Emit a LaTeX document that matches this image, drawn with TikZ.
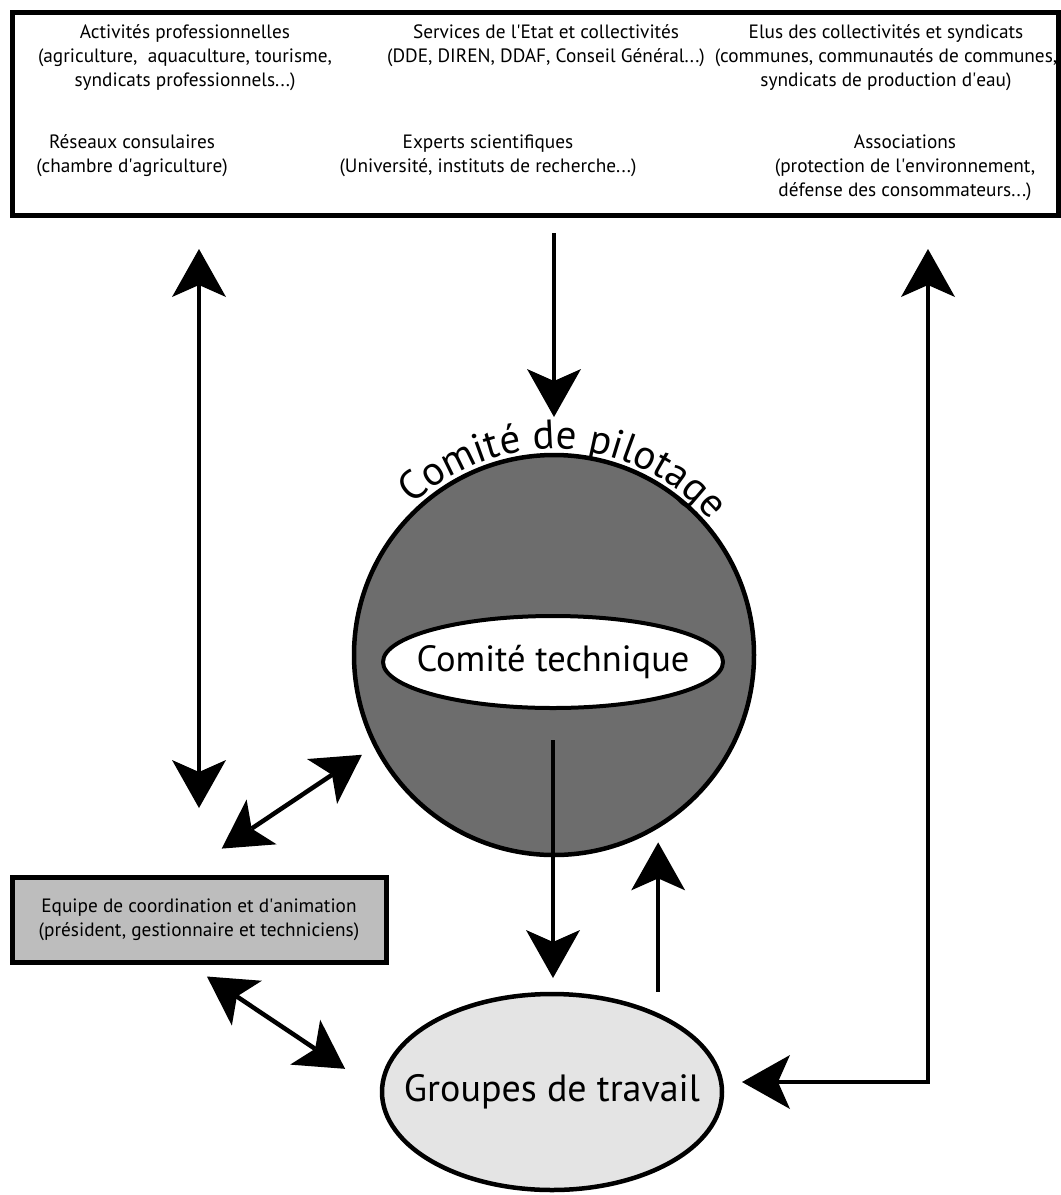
\documentclass[tikz,border=0pt]{standalone}
\usepackage{fontspec}
\setmainfont{PT Sans}
\usetikzlibrary{calc,shapes,arrows.meta,decorations.text}
\definecolor{gris}{HTML}{6D6D6D}
\definecolor{grisclair}{HTML}{BDBDBD}
\definecolor{grispale}{HTML}{E4E4E4}
\newcommand\apos{\textquotesingle}
\tikzset{
  cadre/.style={draw,line width=5pt,inner sep=0pt},
  texte/.style={align=center,font=\fontsize{19.3}{24}\selectfont},
  bulle/.style={draw,line width=4.5pt,inner sep=0pt},
  fleche/.style={line width=4.5pt,-{Stealth[length=48pt,width=54pt,inset=12pt,line width=0pt]}},
  fleche2/.style={line width=4.5pt,{Stealth[length=48pt,width=54pt,inset=12pt,line width=0pt]}-{Stealth[length=48pt,width=54pt,inset=12pt,line width=0pt]}}
}
\begin{document}
\begin{tikzpicture}[x=1pt,y=-1pt]
  \useasboundingbox (0,0) rectangle (1061,1195);
  \node[cadre,minimum width=1046pt,minimum height=203pt](acteurs)at(535,113.5){};
  \node[texte](activites)at(185,58){Activités professionnelles\\(agriculture,~ aquaculture, tourisme,\\syndicats professionnels...)};
  \node[texte](services)at(546,46){Services de l\apos Etat et collectivités\\(DDE, DIREN, DDAF, Conseil Général...)};
  \node[texte](elus)at(886,58){Elus des collectivités et syndicats\\(communes, communautés de communes,\\syndicats de production d\apos eau)};
  \node[texte](reseaux)at(132,156){Réseaux consulaires\\(chambre d\apos agriculture)};
  \node[texte](experts)at(488,156){Experts scientifiques\\(Université, instituts de recherche...)};
  \node[texte](assoc)at(905,168){Associations\\(protection de l\apos environnement,\\défense des consommateurs...)};

  \node[bulle,circle,fill=gris,minimum size=400pt](pil)at(554,655){};
  \path[decorate,decoration={text along path,text align=center,
    text={|\fontsize{41}{41}\selectfont|Comité de pilotage}}]
    ([shift={(pil.center)}]-147:206) arc[start angle=-147,end angle=-27,radius=206];
  \node[bulle,ellipse,line width=4pt,fill=white,minimum width=340pt,minimum height=92pt,
    label={[font=\fontsize{36.5}{36}\selectfont]center:Comité technique}](tech)at(553,662){};
  \node[bulle,ellipse,fill=grispale,minimum width=340pt,minimum height=196pt,
    label={[font=\fontsize{38}{38}\selectfont]center:Groupes de travail}](grp)at(552,1092){};
  \node[cadre,fill=grisclair,minimum width=374pt,minimum height=85pt,texte](equipe)at(199,919.5)
    {Equipe de coordination et d\apos animation\\(président, gestionnaire et techniciens)};
  \coordinate(droite)at(928,1082);

  \draw[fleche,shorten <=15.5pt,shorten >=35.75pt](acteurs.south -| pil.north)--(pil.north);
  \draw[fleche2,shorten <=31.5pt,shorten >=66.5pt](acteurs.south -| equipe.north)--(equipe.north);
  \draw[fleche2,shorten <=46.6pt,shorten >=14.3pt]($(equipe.north)+(-16,0)$)--(pil.207.7);
  \draw[fleche2,shorten <=21.6pt,shorten >=41.7pt]($(equipe.south)+(-10,0)$)--(grp.west);
  \draw[fleche,shorten <=30pt,shorten >=13.75pt](tech.south)--(tech.south |- grp.north);
  \draw[fleche,shorten >=14pt](pil.-59.3 |- grp.north)--(pil.-59.3);
  \draw[fleche2,shorten <=17.75pt,shorten >=31.5pt](grp.east |- droite)-|(acteurs.south -| droite);
\end{tikzpicture}
\end{document}
